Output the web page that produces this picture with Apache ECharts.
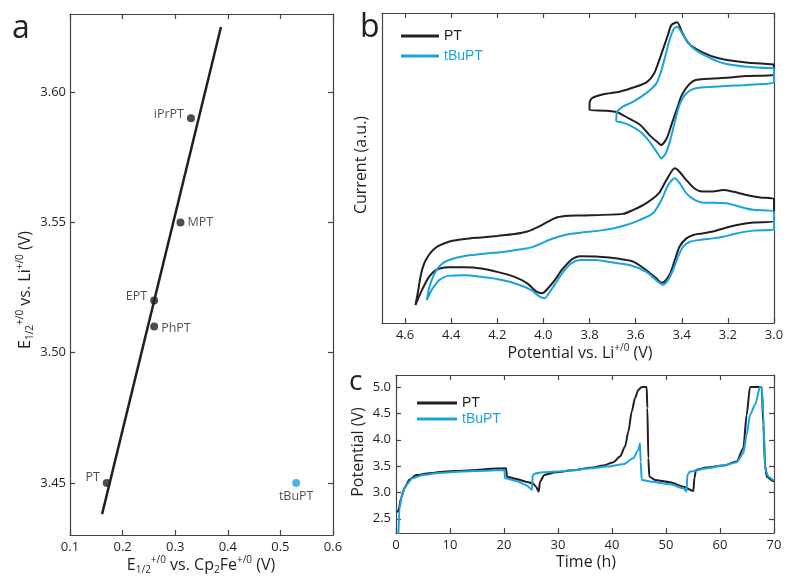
<!DOCTYPE html>
<html>
<head>
<meta charset="utf-8">
<script src="https://cdn.jsdelivr.net/npm/echarts@6/dist/echarts.min.js"></script>
<style>
  html, body { margin: 0; padding: 0; background: #fff; }
  #chart { width: 789px; height: 578px; }
</style>
</head>
<body>
<div id="chart"></div>
<script>
// panel a: E1/2 vs Cp2Fe and vs Li
const aNames = ['iPrPT', 'MPT', 'EPT', 'PhPT', 'PT'];
const aVsFc = [0.33, 0.31, 0.26, 0.26, 0.17];
const aVsLi = [3.59, 3.55, 3.52, 3.51, 3.45];
const tbuVsFc = [0.53];
const tbuVsLi = [3.45];
const fitVsFc = [0.161, 0.387];
const fitVsLi = [3.438, 3.625];
const aYTicks = [3.45, 3.50, 3.55, 3.60];

// panel b: cyclic voltammograms [potential V, current a.u.]
const ptCvInner = [[3.00,83.4],[3.12,84.0],[3.24,85.4],[3.31,87.3],[3.37,90.2],[3.40,94.0],[3.42,97.0],[3.445,96.1],[3.46,92.9],[3.48,88.6],[3.50,84.3],[3.52,80.5],[3.55,77.8],[3.60,76.2],[3.67,74.6],[3.74,73.8],[3.79,72.5],[3.80,70.9],[3.80,68.7],[3.73,68.5],[3.68,68.0],[3.63,66.0],[3.58,63.9],[3.54,60.6],[3.50,58.0],[3.49,57.4],[3.465,59.6],[3.445,63.9],[3.42,69.3],[3.40,73.5],[3.37,76.8],[3.34,78.4],[3.26,78.9],[3.19,79.2],[3.12,79.7],[3.00,80.0],[3.00,83.4]];
const tbuCvInner = [[3.00,82.2],[3.12,82.7],[3.22,83.8],[3.29,85.9],[3.35,88.6],[3.39,92.4],[3.42,95.6],[3.435,94.8],[3.455,90.8],[3.47,86.5],[3.49,81.1],[3.51,77.3],[3.55,74.4],[3.61,71.4],[3.655,69.8],[3.68,68.2],[3.684,65.2],[3.66,64.7],[3.63,63.9],[3.58,61.7],[3.54,58.5],[3.50,54.2],[3.49,53.1],[3.47,54.7],[3.45,59.0],[3.43,64.9],[3.41,70.3],[3.38,74.1],[3.34,75.7],[3.26,76.2],[3.19,76.5],[3.12,76.8],[3.00,77.8],[3.00,82.2]];
const ptCvOuter = [[4.555,5.8],[4.545,9.6],[4.53,16.0],[4.51,20.3],[4.47,24.1],[4.41,26.2],[4.34,27.1],[4.27,27.6],[4.20,28.1],[4.125,28.7],[4.07,29.5],[4.02,31.1],[3.98,32.7],[3.94,34.1],[3.89,34.6],[3.84,34.7],[3.655,35.2],[3.61,36.5],[3.555,38.6],[3.50,41.8],[3.467,46.1],[3.43,49.9],[3.41,48.8],[3.38,46.1],[3.345,43.4],[3.31,42.4],[3.265,42.4],[3.22,42.9],[3.18,42.4],[3.12,41.3],[3.06,40.5],[3.00,39.9],[3.00,32.9],[3.09,32.4],[3.16,31.6],[3.22,30.5],[3.265,29.5],[3.31,28.9],[3.35,28.4],[3.38,27.3],[3.41,24.6],[3.43,20.3],[3.45,16.0],[3.475,13.3],[3.49,13.0],[3.51,14.4],[3.555,17.1],[3.61,19.8],[3.67,20.7],[3.76,21.4],[3.84,21.5],[3.88,20.3],[3.92,17.1],[3.95,13.9],[3.98,11.2],[4.005,9.6],[4.03,10.1],[4.07,12.8],[4.125,14.9],[4.20,16.5],[4.27,17.6],[4.34,18.0],[4.41,18.0],[4.465,17.1],[4.50,14.4],[4.53,10.1],[4.555,5.8]];
const tbuCvOuter = [[4.506,7.4],[4.494,11.7],[4.472,16.0],[4.436,19.3],[4.385,20.9],[4.313,21.9],[4.241,22.5],[4.168,23.0],[4.096,23.8],[4.052,24.4],[4.009,25.7],[3.965,27.1],[3.907,28.4],[3.84,29.1],[3.757,29.8],[3.699,30.5],[3.641,31.6],[3.583,33.2],[3.525,35.4],[3.488,39.7],[3.459,44.5],[3.43,46.7],[3.409,45.1],[3.38,41.8],[3.344,39.7],[3.307,38.8],[3.264,38.8],[3.206,38.6],[3.148,37.5],[3.09,36.5],[3.00,35.9],[3.00,30.2],[3.09,29.8],[3.162,28.9],[3.22,27.8],[3.264,27.3],[3.322,26.8],[3.365,26.2],[3.394,24.6],[3.416,21.4],[3.438,17.1],[3.459,13.9],[3.481,12.3],[3.503,13.3],[3.554,16.5],[3.626,18.7],[3.699,19.5],[3.771,20.3],[3.84,20.3],[3.878,19.3],[3.914,16.5],[3.943,13.3],[3.972,10.1],[3.994,8.0],[4.016,8.5],[4.052,10.6],[4.125,12.8],[4.197,14.1],[4.27,14.9],[4.342,15.4],[4.414,15.2],[4.451,13.9],[4.48,11.2],[4.506,7.4]];
const bXTicks = [3.0, 3.2, 3.4, 3.6, 3.8, 4.0, 4.2, 4.4, 4.6];

// panel c: galvanostatic cycling [time h, potential V]
const ptGalv = [[0.3,2.62],[0.49,2.67],[0.93,2.89],[1.54,3.08],[2.47,3.24],[3.70,3.33],[6.17,3.365],[9.26,3.40],[12.35,3.414],[15.43,3.433],[18.52,3.453],[20.37,3.459],[20.56,3.30],[22.22,3.257],[24.07,3.205],[25.31,3.174],[25.93,3.11],[26.42,3.015],[26.67,3.205],[27.47,3.333],[29.63,3.384],[32.72,3.421],[36.11,3.47],[38.40,3.51],[40.25,3.574],[41.49,3.681],[42.41,3.871],[43.03,4.156],[43.65,4.536],[44.26,4.791],[44.88,4.949],[45.50,5.0],[46.42,5.0],[46.55,4.60],[46.73,3.65],[46.92,3.30],[47.97,3.238],[50.74,3.194],[53.21,3.11],[55.07,3.029],[55.25,3.27],[55.56,3.428],[57.53,3.472],[60.62,3.51],[63.09,3.586],[64.32,3.84],[64.94,4.473],[65.56,5.0],[67.72,5.0],[68.03,4.283],[68.34,3.523],[68.65,3.30],[69.75,3.219],[70,3.21]];
const tbuGalv = [[0.45,2.2],[0.62,2.681],[1.11,2.952],[1.85,3.143],[3.09,3.27],[4.94,3.333],[8.02,3.371],[12.35,3.396],[16.67,3.414],[20.06,3.427],[20.19,3.27],[22.22,3.219],[24.07,3.142],[25.19,3.048],[25.31,3.333],[25.93,3.365],[27.16,3.384],[29.63,3.396],[32.72,3.421],[36.11,3.459],[39.02,3.491],[42.10,3.536],[43.95,3.65],[44.88,3.808],[45.19,3.935],[45.31,3.586],[45.50,3.238],[47.35,3.205],[50.74,3.156],[53.21,3.08],[53.83,3.015],[53.95,3.333],[54.45,3.396],[57.53,3.459],[60.62,3.51],[63.09,3.574],[64.32,3.745],[64.94,4.093],[65.56,4.473],[66.49,4.663],[67.41,5.0],[67.72,5.0],[68.03,4.473],[68.34,3.459],[68.96,3.30],[69.88,3.238],[70,3.23]];
const cYTicks = [2.5, 3.0, 3.5, 4.0, 4.5, 5.0];

const ink = '#231f20';
const blue = '#1ba3de';
const frame = '#444444';
const numFont = 'Open Sans';

// label placement for panel a points
const aLabelPos = {
  iPrPT: { position: 'left', offset: [0, -4] },
  MPT: { position: 'right', offset: [0, 0] },
  EPT: { position: 'left', offset: [0, -4] },
  PhPT: { position: 'right', offset: [0, 2] },
  PT: { position: 'left', offset: [0, -5] }
};

const chart = echarts.init(document.getElementById('chart'));

// axis helper: value axis with inward ticks
const axis = (grid, pos, min, max, extra = {}) => {
  const showLabel = pos === 'bottom' || pos === 'left';
  return Object.assign({
    type: 'value',
    gridIndex: grid,
    position: pos,
    min: min,
    max: max,
    axisLine: { show: true, onZero: false, lineStyle: { color: frame, width: 1.2 } },
    axisTick: { show: true, inside: true, length: 5, lineStyle: { color: frame, width: 1.2 } },
    axisLabel: { show: showLabel, color: ink, fontSize: 13, fontFamily: numFont, margin: 6 },
    splitLine: { show: false }
  }, extra)
};

const fmt = (d) => (v) => v.toFixed(d);
const ticks = (vals) => ({ show: true, inside: true, length: 5, customValues: vals, lineStyle: { color: frame, width: 1.2 } });
const labels = (vals, d, margin) => ({ color: ink, fontSize: 13, fontFamily: numFont, margin: margin, customValues: vals, formatter: fmt(d) });

const xAxes = [
  axis(0, 'bottom', 0.1, 0.6, { interval: 0.1, axisLabel: { color: ink, fontSize: 13, fontFamily: numFont, margin: 6, formatter: fmt(1) } }),
  axis(0, 'top', 0.1, 0.6, { interval: 0.1 }),
  axis(1, 'bottom', 3.0, 4.7, { inverse: true, axisTick: ticks(bXTicks), axisLabel: labels(bXTicks, 1, 6) }),
  axis(1, 'top', 3.0, 4.7, { inverse: true, axisTick: ticks(bXTicks) }),
  axis(2, 'bottom', 0, 70, { interval: 10 }),
  axis(2, 'top', 0, 70, { interval: 10 })
];

const yAxes = [
  axis(0, 'left', 3.43, 3.63, { axisTick: ticks(aYTicks), axisLabel: labels(aYTicks, 2, 4) }),
  axis(0, 'right', 3.43, 3.63, { axisTick: ticks(aYTicks) }),
  axis(1, 'left', 0, 100, { axisTick: { show: false }, axisLabel: { show: false } }),
  axis(1, 'right', 0, 100, { axisTick: { show: false }, axisLabel: { show: false } }),
  axis(2, 'left', 2.23, 5.23, { axisTick: ticks(cYTicks), axisLabel: labels(cYTicks, 1, 5) }),
  axis(2, 'right', 2.23, 5.23, { axisTick: ticks(cYTicks) })
];

const cvLine = (name, data, color) => ({
  name: name,
  type: 'line',
  xAxisIndex: 2,
  yAxisIndex: 2,
  data: data,
  showSymbol: false,
  smooth: 0.25,
  lineStyle: { color: color, width: 2 },
  itemStyle: { color: color },
  silent: true
});

const galvLine = (name, data, color) => ({
  name: name,
  type: 'line',
  xAxisIndex: 4,
  yAxisIndex: 4,
  data: data,
  showSymbol: false,
  smooth: 0.25,
  smoothMonotone: 'x',
  lineStyle: { color: color, width: 2 },
  itemStyle: { color: color },
  silent: true
});

const aPoints = aNames.map((n, i) => ({
  value: [aVsFc[i], aVsLi[i]],
  label: {
    show: true,
    formatter: n,
    position: aLabelPos[n].position,
    offset: aLabelPos[n].offset,
    distance: 3,
    color: ink,
    fontSize: 12.5,
    fontFamily: numFont
  }
}));

const supRich = {
  m: { fontSize: 16, fontFamily: numFont, lineHeight: 20, fill: ink },
  sb: { fontSize: 10, fontFamily: numFont, lineHeight: 11, verticalAlign: 'bottom', fill: ink },
  sp: { fontSize: 10, fontFamily: numFont, lineHeight: 11, verticalAlign: 'top', fill: ink }
};

const title = (x, y, text, rotate) => ({
  type: 'text',
  x: x,
  y: y,
  rotation: rotate ? Math.PI / 2 : 0,
  style: {
    text: text,
    rich: supRich,
    fontSize: 16,
    fontFamily: numFont,
    fill: ink,
    align: 'center',
    verticalAlign: 'middle'
  }
});

const panelLetter = (x, y, t, size) => ({
  type: 'text',
  x: x,
  y: y,
  style: { text: t, fontSize: size, fontFamily: numFont, fill: ink, align: 'left', verticalAlign: 'middle' }
});

const legendBase = {
  orient: 'vertical',
  icon: 'rect',
  itemHeight: 3,
  selectedMode: false,
  textStyle: { fontFamily: 'Liberation Sans', fontSize: 14 },
  data: [
    { name: 'PT', textStyle: { color: ink } },
    { name: 'tBuPT', textStyle: { color: blue } }
  ]
};

const option = {
  animation: false,
  backgroundColor: '#fff',
  grid: [
    { left: 70, top: 14, width: 263, height: 521 },
    { left: 382, top: 13, width: 392, height: 310 },
    { left: 396, top: 375, width: 378, height: 158 }
  ],
  xAxis: xAxes,
  yAxis: yAxes,
  legend: [
    Object.assign({}, legendBase, { left: 396, top: 24, itemWidth: 38, itemGap: 6 }),
    Object.assign({}, legendBase, { left: 412, top: 391, itemWidth: 40, itemGap: 2 })
  ],
  series: [
    {
      name: 'fit',
      type: 'line',
      xAxisIndex: 0,
      yAxisIndex: 0,
      data: fitVsFc.map((x, i) => [x, fitVsLi[i]]),
      showSymbol: false,
      lineStyle: { color: ink, width: 2.5 },
      silent: true
    },
    {
      name: 'compounds',
      type: 'scatter',
      xAxisIndex: 0,
      yAxisIndex: 0,
      symbolSize: 8,
      itemStyle: { color: ink },
      data: aPoints
    },
    {
      name: 'tBuPT point',
      type: 'scatter',
      xAxisIndex: 0,
      yAxisIndex: 0,
      symbolSize: 8,
      itemStyle: { color: blue },
      data: tbuVsFc.map((x, i) => [x, tbuVsLi[i]]),
      label: { show: true, formatter: 'tBuPT', position: 'bottom', distance: 3, color: ink, fontSize: 12.5, fontFamily: numFont }
    },
    cvLine('PT', ptCvInner, ink),
    cvLine('PT', ptCvOuter, ink),
    cvLine('tBuPT', tbuCvInner, blue),
    cvLine('tBuPT', tbuCvOuter, blue),
    galvLine('PT', ptGalv, ink),
    galvLine('tBuPT', tbuGalv, blue)
  ],
  graphic: [
    panelLetter(12, 29, 'a', 32),
    panelLetter(360, 28, 'b', 32),
    panelLetter(349, 382, 'c', 28),
    title(201, 565, '{m|E}{sb|1/2}{sp|+/0}{m| vs. Cp}{sb|2}{m|Fe}{sp|+/0}{m| (V)}', false),
    title(25, 290, '{m|E}{sb|1/2}{sp|+/0}{m| vs. Li}{sp|+/0}{m| (V)}', true),
    title(580, 353, '{m|Potential vs. Li}{sp|+/0}{m| (V)}', false),
    title(361, 165, '{m|Current (a.u.)}', true),
    title(586, 562, '{m|Time (h)}', false),
    title(358, 452, '{m|Potential (V)}', true)
  ]
};

chart.setOption(option);
</script>
</body>
</html>
